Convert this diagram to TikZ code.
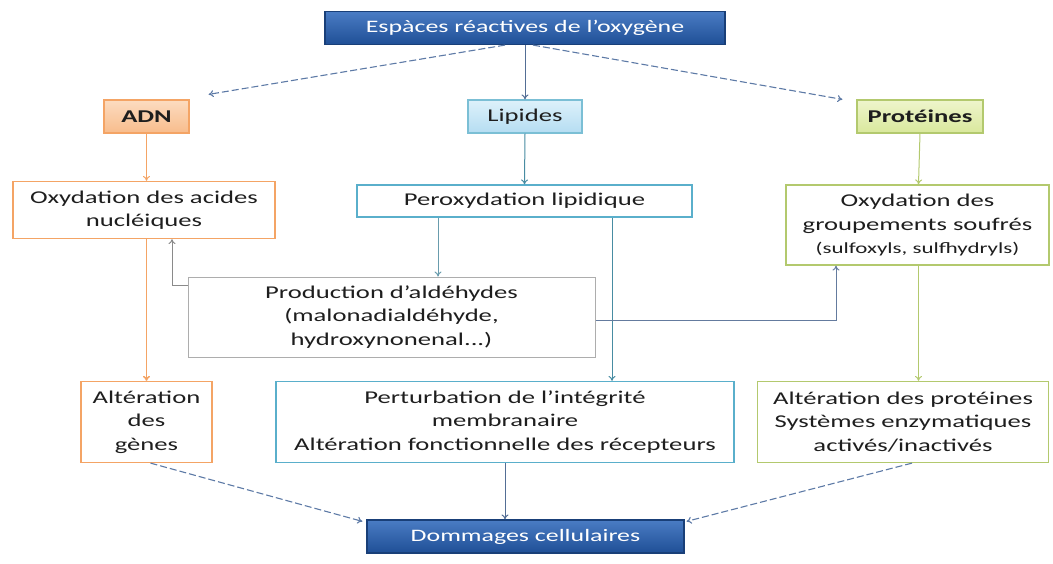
\documentclass[tikz,border=0pt]{standalone}
\usepackage{fontspec}
\setmainfont{Carlito}[FakeStretch=1.48]
\usetikzlibrary{arrows.meta,calc}
\definecolor{blueA}{HTML}{4A7CC4}
\definecolor{blueB}{HTML}{1F4F96}
\definecolor{orgB}{HTML}{F4A465}
\definecolor{orgF1}{HTML}{FCDCC0}
\definecolor{orgF2}{HTML}{F8BC8C}
\definecolor{lipF1}{HTML}{DDF1FA}
\definecolor{lipF2}{HTML}{B5DDF2}
\definecolor{grnF1}{HTML}{EEF5CC}
\definecolor{grnF2}{HTML}{D9E89C}
\definecolor{tealB}{HTML}{5AAFCB}
\definecolor{grnB}{HTML}{B3C96E}
\definecolor{grayB}{HTML}{8A8A8A}
\definecolor{lnk}{HTML}{5D7AA6}
\definecolor{txt}{HTML}{1E1E1E}
\tikzset{
  base/.style={rectangle, inner sep=2pt, align=center, text=txt, font=\fontsize{18}{23.5}\selectfont, line width=1.2pt},
  bluebox/.style={base, top color=blueA, bottom color=blueB, draw=blueB!80!black, text=white, font=\fontsize{17.5}{20}\selectfont, minimum height=33pt},
  orgtop/.style={base, top color=orgF1, bottom color=orgF2, draw=orgB, minimum height=33pt},
  lipTop/.style={base, top color=lipF1, bottom color=lipF2, draw=tealB!80, minimum height=33pt},
  grnTop/.style={base, top color=grnF1, bottom color=grnF2, draw=grnB, minimum height=33pt},
  orgbox/.style={base, fill=white, draw=orgB},
  tealbox/.style={base, fill=white, draw=tealB},
  grnbox/.style={base, fill=white, draw=grnB},
  graybox/.style={base, fill=white, draw=grayB!70, line width=1pt},
  tip/.style={-{To[length=5pt,width=7pt]}},
  dlink/.style={tip, draw=lnk, line width=1.1pt, dash pattern=on 7pt off 3pt},
  slink/.style={tip, line width=1pt},
}
\begin{document}
\begin{tikzpicture}[x=1pt,y=-1pt]
\useasboundingbox (0,0) rectangle (1053,563);
% boxes
\node[bluebox, minimum width=400pt] (top) at (525,28) {Espàces réactives de l'oxygène};
\node[orgtop, minimum width=85pt] (adn) at (146.5,116.5) {\bfseries ADN};
\node[lipTop, minimum width=114pt] (lip) at (525,116.5) {Lipides};
\node[grnTop, minimum width=126pt] (prot) at (920,116.5) {\bfseries Protéines};
\node[orgbox, minimum width=262pt, minimum height=57pt] (oxa) at (144,210) {Oxydation des acides\\nucléiques};
\node[tealbox, minimum width=335pt, minimum height=32pt] (perox) at (524.5,201) {Peroxydation lipidique};
\node[grnbox, minimum width=263pt, minimum height=80pt] (oxs) at (917.5,225) {Oxydation des\\groupements soufrés\\{\fontsize{15.5}{19}\selectfont (sulfoxyls, sulfhydryls)}};
\node[graybox, minimum width=407pt, minimum height=80pt] (prod) at (391.5,317) {Production d'aldéhydes\\(malonadialdéhyde,\\hydroxynonenal...)};
\node[orgbox, minimum width=131pt, minimum height=81pt] (altg) at (146.5,422) {Altération\\des\\gènes};
\node[tealbox, minimum width=458pt, minimum height=81pt] (pert) at (505,422) {Perturbation de l'intégrité\\membranaire\\Altération fonctionnelle des récepteurs};
\node[grnbox, minimum width=291pt, minimum height=81pt] (altp) at (903,422) {Altération des protéines\\Systèmes enzymatiques\\activés/inactivés};
\node[bluebox, minimum width=317pt] (dom) at (525.5,536.5) {Dommages cellulaires};
% coordinates for free ends
\coordinate (c1) at (172,285);
\coordinate (c2) at (836,320);
% connectors from top
\draw[dlink] ([xshift=-20pt]top.south) -- ([xshift=19pt,yshift=5pt]adn.north east);
\draw[dlink] ([xshift=8pt]top.south) -- ([xshift=-14pt]prot.north west);
\draw[slink, draw=lnk!90!black] (top.south) -- (lip.north);
% second level
\draw[slink, draw=orgB] (adn.south) -- (oxa.north -| adn.south);
\draw[slink, draw=tealB!80!black] (lip.south) -- (perox.north);
\draw[slink, draw=grnB] (prot.south) -- ([xshift=1pt]oxs.north);
% peroxydation outputs
\draw[slink, draw=tealB!60!gray] (perox.south -| 438,0) -- (prod.north -| 438,0);
\draw[slink, draw=tealB!80!black] (perox.south -| 612,0) -- (pert.north -| 612,0);
% production feedback
\draw[slink, draw=grayB] (prod.west |- c1) -- (c1) -- (oxa.south -| c1);
\draw[slink, draw=lnk!80!gray] (prod.east |- c2) -- (c2) -- (oxs.south -| c2);
% third level
\draw[slink, draw=orgB, line width=1.6pt] (oxa.south -| adn.south) -- (altg.north -| adn.south);
\draw[slink, draw=grnB] ([xshift=1pt]oxs.south) -- (altp.north -| 918.5,0);
% to dommages
\draw[dlink] ([xshift=4pt]altg.south) -- ([xshift=-4pt,yshift=-2pt]dom.north west);
\draw[slink, draw=lnk!90!black] (pert.south) -- (dom.north -| pert.south);
\draw[dlink] ([xshift=9pt]altp.south) -- ([xshift=2pt,yshift=-2pt]dom.north east);
\end{tikzpicture}
\end{document}
